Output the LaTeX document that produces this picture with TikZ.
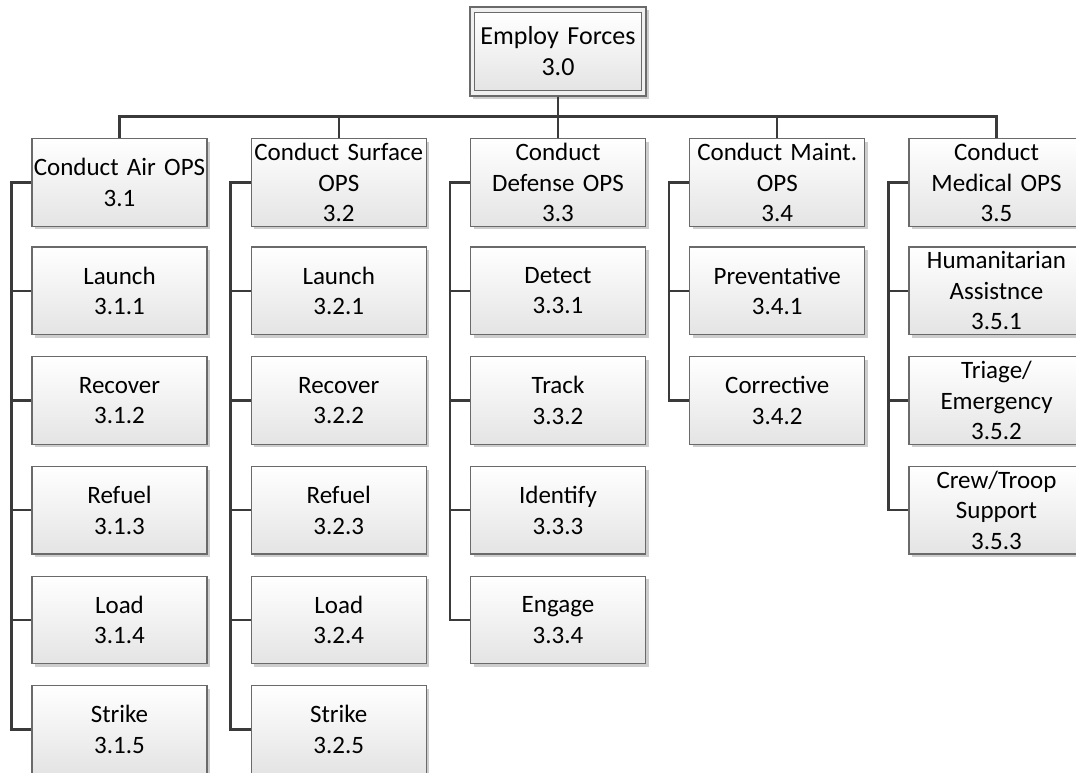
\documentclass[tikz,border=0pt]{standalone}
\usepackage{fontspec}
\setmainfont{Carlito}
\usetikzlibrary{shadows}
\definecolor{boxline}{HTML}{6A6A6A}
\definecolor{boxlow}{HTML}{E4E4E4}
\definecolor{wire}{HTML}{3A3A3A}
\definecolor{shade}{HTML}{CDCDCD}
\tikzset{
  task/.style={rectangle, draw=boxline, line width=1.2pt,
    top color=white, bottom color=boxlow,
    minimum width=175pt, minimum height=87.5pt, inner sep=0pt,
    text width=175pt, align=center,
    font=\fontsize{25pt}{30.5pt}\selectfont,
    drop shadow={shadow xshift=3pt, shadow yshift=-3pt, fill=shade, opacity=1}},
  topouter/.style={rectangle, draw=boxline, line width=1.2pt, fill=white!94!black,
    minimum width=176pt, minimum height=89pt, inner sep=0pt,
    drop shadow={shadow xshift=3pt, shadow yshift=-3pt, fill=shade, opacity=1}},
  topinner/.style={rectangle, draw=boxline, line width=1.2pt,
    top color=white, bottom color=boxlow,
    minimum width=167pt, minimum height=78pt, inner sep=0pt,
    text width=167pt, align=center,
    font=\fontsize{26pt}{31pt}\selectfont},
  link/.style={draw=wire, line width=2.4pt}
}
\begin{document}
\begin{tikzpicture}[x=1pt, y=-1pt]
\useasboundingbox (0,0) rectangle (1076,773);
\clip (0,0) rectangle (1076,773);

% root
\node[topouter] (top) at (558,51.5) {};
\node[topinner] (topin) at (558,51.5) {Employ Forces\\3.0};

% level one
\node[task] (c1) at (119.5,182.5)  {Conduct Air OPS\\3.1};
\node[task] (c2) at (338.75,182.5) {Conduct Surface\\OPS\\3.2};
\node[task] (c3) at (558,182.5)    {Conduct\\Defense OPS\\3.3};
\node[task] (c4) at (777.25,182.5) {Conduct Maint.\\OPS\\3.4};
\node[task] (c5) at (996.5,182.5)  {Conduct\\Medical OPS\\3.5};

% air operations
\node[task] (c11) at (119.5,290.75) {Launch\\3.1.1};
\node[task] (c12) at (119.5,400.5)  {Recover\\3.1.2};
\node[task] (c13) at (119.5,510.25) {Refuel\\3.1.3};
\node[task] (c14) at (119.5,620)    {Load\\3.1.4};
\node[task] (c15) at (119.5,729.5)  {Strike\\3.1.5};

% surface operations
\node[task] (c21) at (338.75,290.75) {Launch\\3.2.1};
\node[task] (c22) at (338.75,400.5)  {Recover\\3.2.2};
\node[task] (c23) at (338.75,510.25) {Refuel\\3.2.3};
\node[task] (c24) at (338.75,620)    {Load\\3.2.4};
\node[task] (c25) at (338.75,729.5)  {Strike\\3.2.5};

% defense operations
\node[task] (c31) at (558,290.75) {Detect\\3.3.1};
\node[task] (c32) at (558,400.5)  {Track\\3.3.2};
\node[task] (c33) at (558,510.25) {Identify\\3.3.3};
\node[task] (c34) at (558,620)    {Engage\\3.3.4};

% maintenance operations
\node[task] (c41) at (777.25,290.75) {Preventative\\3.4.1};
\node[task] (c42) at (777.25,400.5)  {Corrective\\3.4.2};

% medical operations
\node[task] (c51) at (996.5,290.75) {Humanitarian\\Assistnce\\3.5.1};
\node[task] (c52) at (996.5,400.5)  {Triage/\\Emergency\\3.5.2};
\node[task] (c53) at (996.5,510.25) {Crew/Troop\\Support\\3.5.3};

% root to level one bus
\foreach \c in {c1,c2,c3,c4,c5}
  \draw[link] (top.south) -- ++(0,20) -| (\c.north);

% column spines
\draw[link] (c1.west) -- ++(-20,0) |- (c15.west);
\foreach \c in {c11,c12,c13,c14}
  \draw[link] (\c.west) -- ++(-20,0);

\draw[link] (c2.west) -- ++(-20,0) |- (c25.west);
\foreach \c in {c21,c22,c23,c24}
  \draw[link] (\c.west) -- ++(-20,0);

\draw[link] (c3.west) -- ++(-20,0) |- (c34.west);
\foreach \c in {c31,c32,c33}
  \draw[link] (\c.west) -- ++(-20,0);

\draw[link] (c4.west) -- ++(-20,0) |- (c42.west);
\draw[link] (c41.west) -- ++(-20,0);

\draw[link] (c5.west) -- ++(-20,0) |- (c53.west);
\foreach \c in {c51,c52}
  \draw[link] (\c.west) -- ++(-20,0);
\end{tikzpicture}
\end{document}
